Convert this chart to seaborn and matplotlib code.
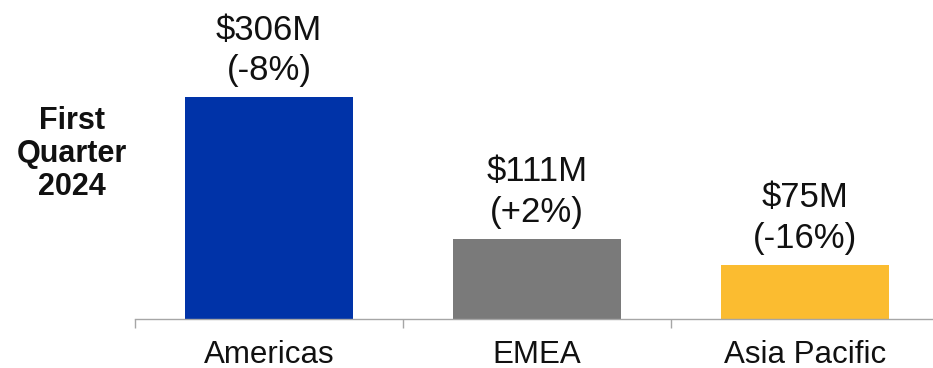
import matplotlib
matplotlib.use("Agg")
import matplotlib.pyplot as plt
import seaborn as sns
import pandas as pd

regions = ["Americas", "EMEA", "Asia Pacific"]
revenue = [306, 111, 75]
value_labels = ["$306M", "$111M", "$75M"]
change_labels = ["(-8%)", "(+2%)", "(-16%)"]
colors = ["#0033A8", "#7A7A7A", "#FBBC30"]
side_title = "First\nQuarter\n2024"

sns.set_theme(style="white")
plt.rcParams["font.family"] = ["Liberation Sans", "DejaVu Sans"]

df = pd.DataFrame({"region": regions, "revenue": revenue})

fig = plt.figure(figsize=(9.33, 3.68), dpi=100)
ax = fig.add_axes([135 / 933, 1 - 319 / 368, 804 / 933, 319 / 368])

sns.barplot(data=df, x="region", y="revenue", hue="region",
            palette=colors, width=0.63, legend=False, ax=ax,
            saturation=1, linewidth=0)

ax.set_xlim(-0.5, 2.5)
ax.set_ylim(0, 440)
ax.set_xlabel("")
ax.set_ylabel("")
ax.set_yticks([])

for c, v, ch in zip(ax.containers, value_labels, change_labels):
    ax.bar_label(c, labels=[f"{v}\n{ch}"], padding=7, fontsize=25,
                 linespacing=1.3, color="#111111")

for s in ["top", "right", "left"]:
    ax.spines[s].set_visible(False)
ax.spines["bottom"].set_color("#A6A6A6")
ax.spines["bottom"].set_linewidth(1.0)

ax.set_xticks([-0.5, 0.5, 1.5, 2.5], minor=True)
ax.tick_params(axis="x", which="minor", length=6.5, width=1.0,
               color="#A6A6A6", direction="out", bottom=True)
ax.tick_params(axis="x", which="major", length=0, pad=15,
               labelsize=22.5, labelcolor="#111111")

fig.text(72 / 933, 1 - 154 / 368, side_title, ha="center", va="center",
         fontsize=22, fontweight="bold", linespacing=1.12, color="#111111")

fig.savefig("out.png", dpi=100)
